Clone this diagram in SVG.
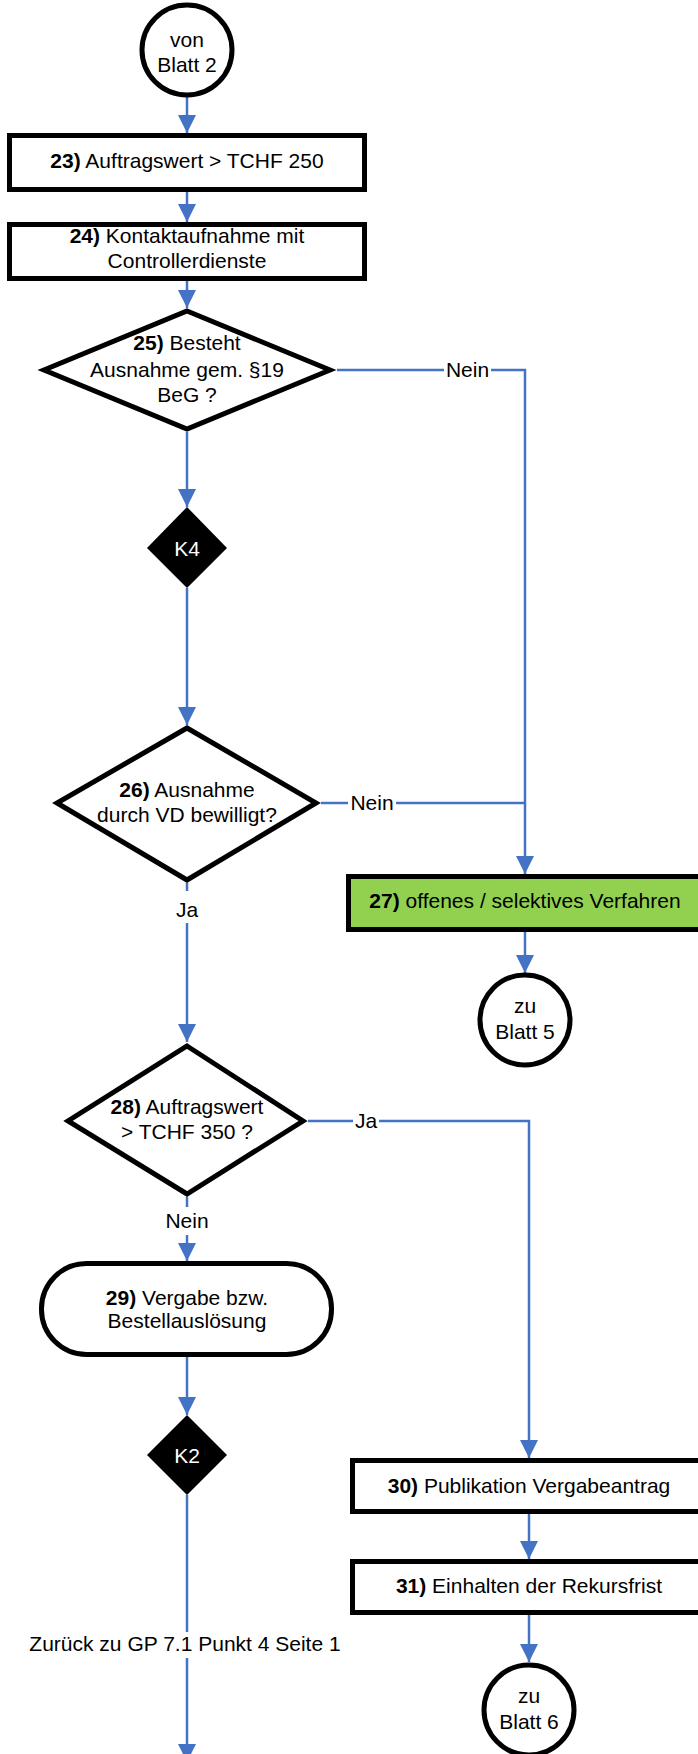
<svg xmlns="http://www.w3.org/2000/svg" width="698" height="1754" viewBox="0 0 698 1754">
<style>
  .shape { fill: #fff; stroke: #000; stroke-width: 5; stroke-linejoin: miter; }
  .green { fill: #92D050; }
  .knot { fill: #000; stroke: none; }
  .t { font-family: "Liberation Sans", Arial, sans-serif; font-size: 21px; fill: #000; text-anchor: middle; }
  .w { fill: #fff; }
  .b { font-weight: bold; }
  .conn { fill: none; stroke: #4472C4; stroke-width: 2.5; }
</style>
<defs>
  <marker id="arr" markerUnits="userSpaceOnUse" markerWidth="18" markerHeight="18" refX="18" refY="9" orient="auto">
    <path d="M0,0 L18,9 L0,18 z" fill="#4472C4"/>
  </marker>
</defs>
<rect width="698" height="1754" fill="#fff"/>

<g id="connectors">
  <path class="conn" d="M187,97 V133" marker-end="url(#arr)"/>
  <path class="conn" d="M187,192 V222" marker-end="url(#arr)"/>
  <path class="conn" d="M187,281 V308" marker-end="url(#arr)"/>
  <path class="conn" d="M187,432 V507" marker-end="url(#arr)"/>
  <path class="conn" d="M187,588 V725" marker-end="url(#arr)"/>
  <path class="conn" d="M337,370 H444"/>
  <path class="conn" d="M491,370 H525 V874" marker-end="url(#arr)"/>
  <text class="t" x="467.5" y="377">Nein</text>
  <path class="conn" d="M321,803 H348"/>
  <path class="conn" d="M396,803 H525"/>
  <text class="t" x="372" y="810">Nein</text>
  <path class="conn" d="M187,883 V891"/>
  <path class="conn" d="M187,923 V1042" marker-end="url(#arr)"/>
  <text class="t" x="187" y="917">Ja</text>
  <path class="conn" d="M525,932 V973" marker-end="url(#arr)"/>
  <path class="conn" d="M308,1121 H353"/>
  <path class="conn" d="M379,1121 H529 V1458" marker-end="url(#arr)"/>
  <text class="t" x="366" y="1128">Ja</text>
  <path class="conn" d="M187,1197 V1207"/>
  <path class="conn" d="M187,1235 V1261" marker-end="url(#arr)"/>
  <text class="t" x="187" y="1228">Nein</text>
  <path class="conn" d="M187,1357 V1415" marker-end="url(#arr)"/>
  <path class="conn" d="M187,1495 V1632"/>
  <path class="conn" d="M187,1658 V1762" marker-end="url(#arr)"/>
  <text class="t" x="185" y="1651">Zurück zu GP 7.1 Punkt 4 Seite 1</text>
  <path class="conn" d="M529,1514 V1559" marker-end="url(#arr)"/>
  <path class="conn" d="M529,1615 V1662" marker-end="url(#arr)"/>
</g>

<g id="n_von_blatt2">
  <circle class="shape" cx="187" cy="50" r="45"/>
  <text class="t" x="187" y="47">von</text>
  <text class="t" x="187" y="72">Blatt 2</text>
</g>

<g id="n23">
  <rect class="shape" x="9.5" y="135.5" width="355" height="54"/>
  <text class="t" x="187" y="168"><tspan class="b">23)</tspan> Auftragswert &gt; TCHF 250</text>
</g>

<g id="n24">
  <rect class="shape" x="9.5" y="224.5" width="355" height="54"/>
  <text class="t" x="187" y="243"><tspan class="b">24)</tspan> Kontaktaufnahme mit</text>
  <text class="t" x="187" y="268">Controllerdienste</text>
</g>

<g id="n25">
  <polygon class="shape" points="187,311 330,370 187,429 44,370"/>
  <text class="t" x="187" y="350"><tspan class="b">25)</tspan> Besteht</text>
  <text class="t" x="187" y="377">Ausnahme gem. §19</text>
  <text class="t" x="187" y="402">BeG ?</text>
</g>

<g id="k4">
  <polygon class="knot" points="187,507 227,548 187,588 147,548"/>
  <text class="t w" x="187" y="555.5">K4</text>
</g>

<g id="n26">
  <polygon class="shape" points="187,728 316,803 187,880 57,803"/>
  <text class="t" x="187" y="797"><tspan class="b">26)</tspan> Ausnahme</text>
  <text class="t" x="187" y="822">durch VD bewilligt?</text>
</g>

<g id="n27">
  <rect class="shape green" x="348.5" y="876.5" width="355" height="53"/>
  <text class="t" x="525" y="908"><tspan class="b">27)</tspan> offenes / selektives Verfahren</text>
</g>

<g id="n_zu_blatt5">
  <circle class="shape" cx="525" cy="1020" r="45"/>
  <text class="t" x="525" y="1013">zu</text>
  <text class="t" x="525" y="1039">Blatt 5</text>
</g>

<g id="n28">
  <polygon class="shape" points="187,1046 303,1121 187,1194 68,1121"/>
  <text class="t" x="187" y="1114"><tspan class="b">28)</tspan> Auftragswert</text>
  <text class="t" x="187" y="1139">&gt; TCHF 350 ?</text>
</g>

<g id="n29">
  <rect class="shape" x="41.5" y="1263.5" width="290" height="91" rx="45" ry="45"/>
  <text class="t" x="187" y="1305"><tspan class="b">29)</tspan> Vergabe bzw.</text>
  <text class="t" x="187" y="1328">Bestellauslösung</text>
</g>

<g id="k2">
  <polygon class="knot" points="187,1415 227,1455 187,1495 147,1455"/>
  <text class="t w" x="187" y="1462.5">K2</text>
</g>

<g id="n30">
  <rect class="shape" x="352.5" y="1460.5" width="355" height="51"/>
  <text class="t" x="529" y="1493"><tspan class="b">30)</tspan> Publikation Vergabeantrag</text>
</g>

<g id="n31">
  <rect class="shape" x="352.5" y="1561.5" width="355" height="51"/>
  <text class="t" x="529" y="1593"><tspan class="b">31)</tspan> Einhalten der Rekursfrist</text>
</g>

<g id="n_zu_blatt6">
  <circle class="shape" cx="529" cy="1710" r="45"/>
  <text class="t" x="529" y="1703">zu</text>
  <text class="t" x="529" y="1729">Blatt 6</text>
</g>
</svg>
